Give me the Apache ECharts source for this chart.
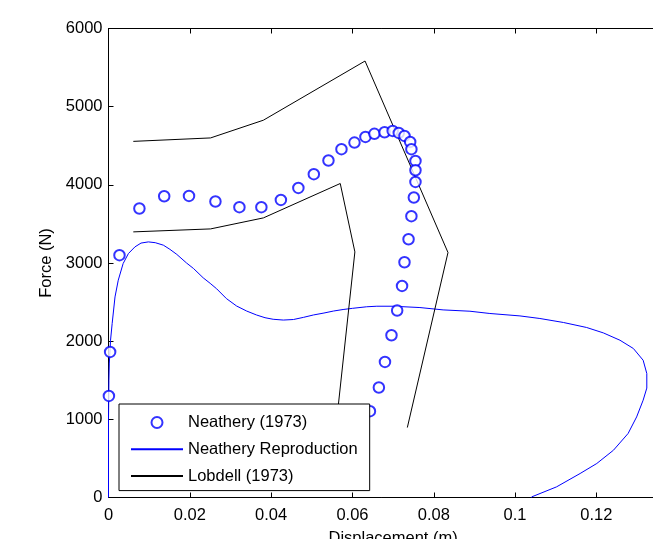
<!DOCTYPE html>
<html>
<head>
<meta charset="utf-8">
<script src="https://cdn.jsdelivr.net/npm/echarts@6/dist/echarts.min.js"></script>
<style>
html,body{margin:0;padding:0;background:#fff;}
#chart{width:653px;height:539px;}
</style>
</head>
<body>
<div id="chart"></div>
<script>
// Neathery (1973) experimental points
var neatheryX = [0.0001,0.0004,0.0027,0.0076,0.0137,0.0198,0.0263,0.0322,0.0376,0.0424,0.0467,0.0505,0.0541,0.0573,0.0605,0.0632,0.0654,0.0679,0.0699,0.0714,0.0728,0.0742,0.0745,0.0755,0.0755,0.0755,0.0751,0.0745,0.0738,0.0728,0.0722,0.0710,0.0696,0.0680,0.0665,0.0643];
var neatheryY = [1300,1862,3100,3697,3854,3858,3787,3714,3714,3807,3961,4136,4311,4456,4541,4613,4652,4673,4690,4664,4626,4549,4456,4306,4187,4037,3838,3599,3304,3010,2707,2392,2076,1735,1407,1104];

// Neathery Reproduction curve
var reproX = [0,0.0000,0.0001,0.0002,0.0005,0.0009,0.0016,0.0024,0.0036,0.0049,0.0065,0.0080,0.0098,0.0115,0.0135,0.0151,0.0168,0.0192,0.0209,0.0233,0.0250,0.0266,0.0290,0.0315,0.0340,0.0364,0.0385,0.0405,0.0430,0.0455,0.0480,0.0504,0.0530,0.0553,0.0577,0.0600,0.0635,0.0660,0.0700,0.0766,0.0823,0.0889,0.0938,0.1012,0.1061,0.1119,0.1176,0.1217,0.1258,0.1291,0.1315,0.1324,0.1324,0.1315,0.1299,0.1278,0.1242,0.1201,0.1160,0.1102,0.1041,0.1040];
var reproY = [0,1000,1500,1720,2012,2226,2566,2780,2993,3121,3206,3255,3270,3260,3228,3175,3110,3000,2930,2810,2740,2670,2545,2450,2385,2335,2300,2280,2270,2277,2305,2335,2360,2385,2405,2420,2440,2447,2447,2430,2400,2383,2354,2323,2290,2239,2175,2106,2012,1906,1756,1586,1400,1245,1031,819,605,435,307,136,8,0];

// Lobdell (1973) bounds
var lobdellUpperX = [0.0061,0.0251,0.0381,0.0631,0.0835,0.0735];
var lobdellUpperY = [4556,4600,4827,5584,3134,895];
var lobdellLowerX = [0.0061,0.0251,0.0381,0.0570,0.0606,0.0559];
var lobdellLowerY = [3398,3436,3577,4017,3142,880];

var xTicksMin = 0, xTicksMax = 0.14, xTickStep = 0.02;
var yTicksMin = 0, yTicksMax = 6000, yTickStep = 1000;

function pairs(xs, ys){ return xs.map(function(x,i){ return [x, ys[i]]; }); }

var FONT = 'Liberation Sans, Arial, sans-serif';
var FS = 16.5;

var chart = echarts.init(document.getElementById('chart'), null, {renderer:'canvas'});
var axisCommon = {
  type:'value',
  axisLine:{show:true, onZero:false, lineStyle:{color:'#000', width:1}},
  axisTick:{show:true, inside:true, length:5, lineStyle:{color:'#000'}},
  splitLine:{show:false},
};
function plain(v){ return String(v); }
chart.setOption({
  animation:false,
  backgroundColor:'#fff',
  grid:{left:108.5, top:28.5, width:569.2, height:469, containLabel:false, outerBoundsMode:'none'},
  xAxis:[
    Object.assign({}, axisCommon, {
      position:'bottom', min:xTicksMin, max:xTicksMax, interval:xTickStep,
      axisLabel:{color:'#000', fontFamily:FONT, fontSize:FS, margin:9, formatter:plain, hideOverlap:false},
      name:'Displacement (m)', nameLocation:'middle', nameGap:32,
      nameTextStyle:{color:'#000', fontFamily:FONT, fontSize:FS, verticalAlign:'top'}
    }),
    Object.assign({}, axisCommon, {
      position:'top', min:xTicksMin, max:xTicksMax, interval:xTickStep,
      axisLabel:{show:false}
    })
  ],
  yAxis:[
    Object.assign({}, axisCommon, {
      position:'left', min:yTicksMin, max:yTicksMax, interval:yTickStep,
      axisLabel:{color:'#000', fontFamily:FONT, fontSize:FS, margin:6, formatter:plain},
      name:'Force (N)', nameLocation:'middle', nameGap:54,
      nameTextStyle:{color:'#000', fontFamily:FONT, fontSize:FS}
    }),
    Object.assign({}, axisCommon, {
      position:'right', min:yTicksMin, max:yTicksMax, interval:yTickStep,
      axisLabel:{show:false}
    })
  ],
  legend:{
    orient:'vertical', left:119, top:404,
    padding:[10,12,6,11],
    itemWidth:52, itemHeight:11, itemGap:9.8,
    backgroundColor:'#fff', borderColor:'#000', borderWidth:1, borderRadius:0,
    textStyle:{color:'#000', fontFamily:FONT, fontSize:FS, lineHeight:16},
    data:[
      {name:'Neathery (1973)'},
      {name:'Neathery Reproduction', itemStyle:{opacity:0}},
      {name:'Lobdell (1973)', itemStyle:{opacity:0}}
    ]
  },
  series:[
    {
      name:'Neathery (1973)', type:'scatter', symbol:'emptyCircle', symbolSize:10.5,
      itemStyle:{color:'#0000ff', borderColor:'#0000ff', borderWidth:1},
      data:pairs(neatheryX, neatheryY), z:3
    },
    {
      name:'Neathery Reproduction', type:'line', showSymbol:false, symbol:'none',
      lineStyle:{color:'#0000ff', width:1}, itemStyle:{color:'#0000ff'},
      data:pairs(reproX, reproY), z:2
    },
    {
      name:'Lobdell (1973)', type:'line', showSymbol:false, symbol:'none',
      lineStyle:{color:'#000', width:1}, itemStyle:{color:'#000'},
      data:pairs(lobdellUpperX, lobdellUpperY), z:2
    },
    {
      name:'Lobdell (1973)', type:'line', showSymbol:false, symbol:'none',
      lineStyle:{color:'#000', width:1}, itemStyle:{color:'#000'},
      data:pairs(lobdellLowerX, lobdellLowerY), z:2
    }
  ]
});
</script>
</body>
</html>
